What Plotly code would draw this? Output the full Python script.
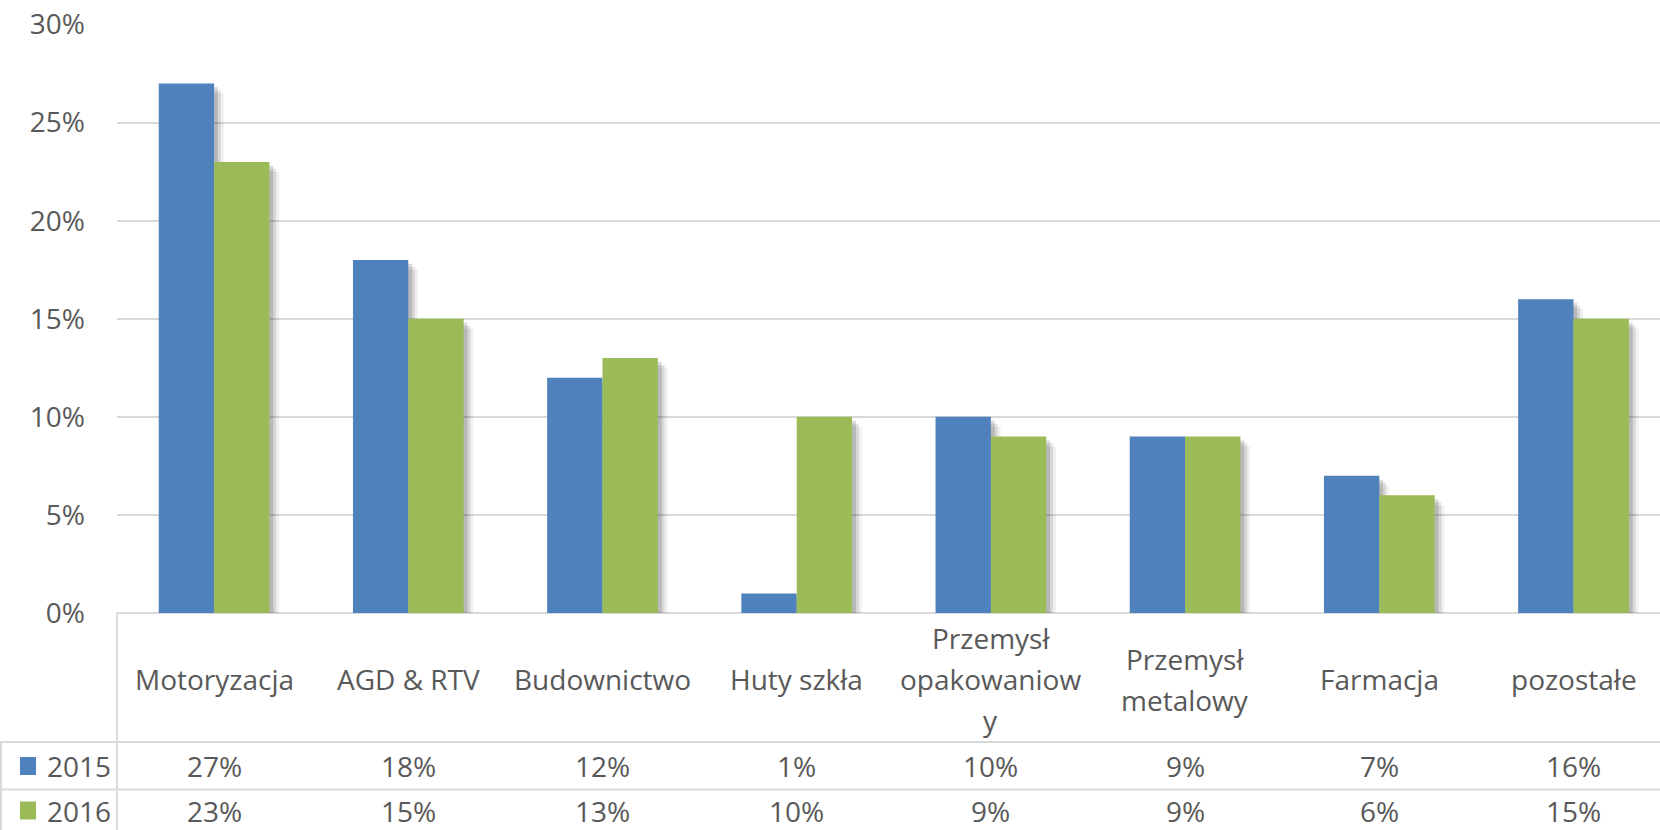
import plotly.graph_objects as go

categories = ["Motoryzacja", "AGD & RTV", "Budownictwo", "Huty szkła",
              "Przemysł<br>opakowaniow<br>y", "Przemysł<br>metalowy", "Farmacja", "pozostałe"]
series_names = ["2015", "2016"]
values_2015 = [27, 18, 12, 1, 10, 9, 7, 16]
values_2016 = [23, 15, 13, 10, 9, 9, 6, 15]
y_ticks = [0, 5, 10, 15, 20, 25, 30]

W, H = 1660, 830
BLUE = "#4F81BD"
GREEN = "#9BBB59"
TXT = "#595959"
GRID = "#D9D9D9"
FONT = "Open Sans"
FS = 28

def py(px):
    return 1 - px / H

x_idx = list(range(len(categories)))
bw = 0.285
fig = go.Figure()

# soft shadows (styling) behind bars
for vals, off in ((values_2015, -bw), (values_2016, 0.0)):
    for dx, dy, a in ((0.05, 0.5, 0.06), (0.035, 0.35, 0.10), (0.02, 0.2, 0.14)):
        fig.add_trace(go.Bar(
            x=x_idx, y=[max(v - dy, 0) for v in vals], offset=off + dx, width=bw,
            marker=dict(color=f"rgba(0,0,0,{a})", line=dict(width=0)),
            showlegend=False, hoverinfo="skip"))

for name, vals, col, off in ((series_names[0], values_2015, BLUE, -bw),
                             (series_names[1], values_2016, GREEN, 0.0)):
    fig.add_trace(go.Bar(
        x=x_idx, y=vals, name=name, offset=off, width=bw,
        marker=dict(color=col, line=dict(width=0)), showlegend=False))

x0_px = 117
n_vis = (W - x0_px) / 194.2
fig.update_layout(
    width=W, height=H, margin=dict(l=0, r=0, t=0, b=0, autoexpand=False),
    paper_bgcolor="white", plot_bgcolor="white",
    barmode="overlay",
    font=dict(family=FONT, size=FS, color=TXT),
    xaxis=dict(domain=[x0_px / W, 1], range=[-0.5, -0.5 + n_vis],
               showticklabels=False, showgrid=False, zeroline=False,
               showline=False, ticks="", automargin=False),
    yaxis=dict(domain=[py(613), py(24.6)], range=[0, 30],
               tickvals=y_ticks, ticktext=[f"{t}%" for t in y_ticks],
               showgrid=True, gridcolor=GRID, gridwidth=2,
               zeroline=True, zerolinecolor=GRID, zerolinewidth=2,
               showline=False, ticks="", ticklabelstandoff=31, automargin=False,
               tickfont=dict(family=FONT, size=FS, color=TXT)),
)

# data table borders
line = dict(color=GRID, width=2)
fig.add_shape(type="line", xref="paper", yref="paper", x0=x0_px / W, x1=x0_px / W,
              y0=py(613), y1=0, line=line)
fig.add_shape(type="line", xref="paper", yref="paper", x0=0.0006, x1=0.0006,
              y0=py(742), y1=0, line=line)
for yy in (742, 789.5):
    fig.add_shape(type="line", xref="paper", yref="paper", x0=0, x1=1,
                  y0=py(yy), y1=py(yy), line=line)

# category labels in table header
for i, lab in enumerate(categories):
    lines = lab.split("<br>")
    n = len(lines)
    for j, t in enumerate(lines):
        yc = 679 + (j - (n - 1) / 2) * 41
        fig.add_annotation(x=i, xref="x", y=py(yc), yref="paper", text=t,
                           showarrow=False, xanchor="center", yanchor="middle",
                           font=dict(family=FONT, size=FS, color=TXT))

# table rows
rows = [(series_names[0], values_2015, BLUE, 766),
        (series_names[1], values_2016, GREEN, 810.5)]
for name, vals, col, yc in rows:
    fig.add_shape(type="rect", xref="paper", yref="paper",
                  x0=20 / W, x1=36 / W, y0=py(yc - 9), y1=py(yc + 9),
                  fillcolor=col, line=dict(width=0))
    fig.add_annotation(x=45 / W, xref="paper", y=py(yc), yref="paper", text=name,
                       showarrow=False, xanchor="left", yanchor="middle",
                       font=dict(family=FONT, size=FS, color=TXT))
    for i, v in enumerate(vals):
        fig.add_annotation(x=i, xref="x", y=py(yc), yref="paper", text=f"{v}%",
                           showarrow=False, xanchor="center", yanchor="middle",
                           font=dict(family=FONT, size=FS, color=TXT))

fig.write_html("out.html", config={"displayModeBar": False},
               post_script="document.body.style.margin='0';document.body.style.overflow='hidden';")
